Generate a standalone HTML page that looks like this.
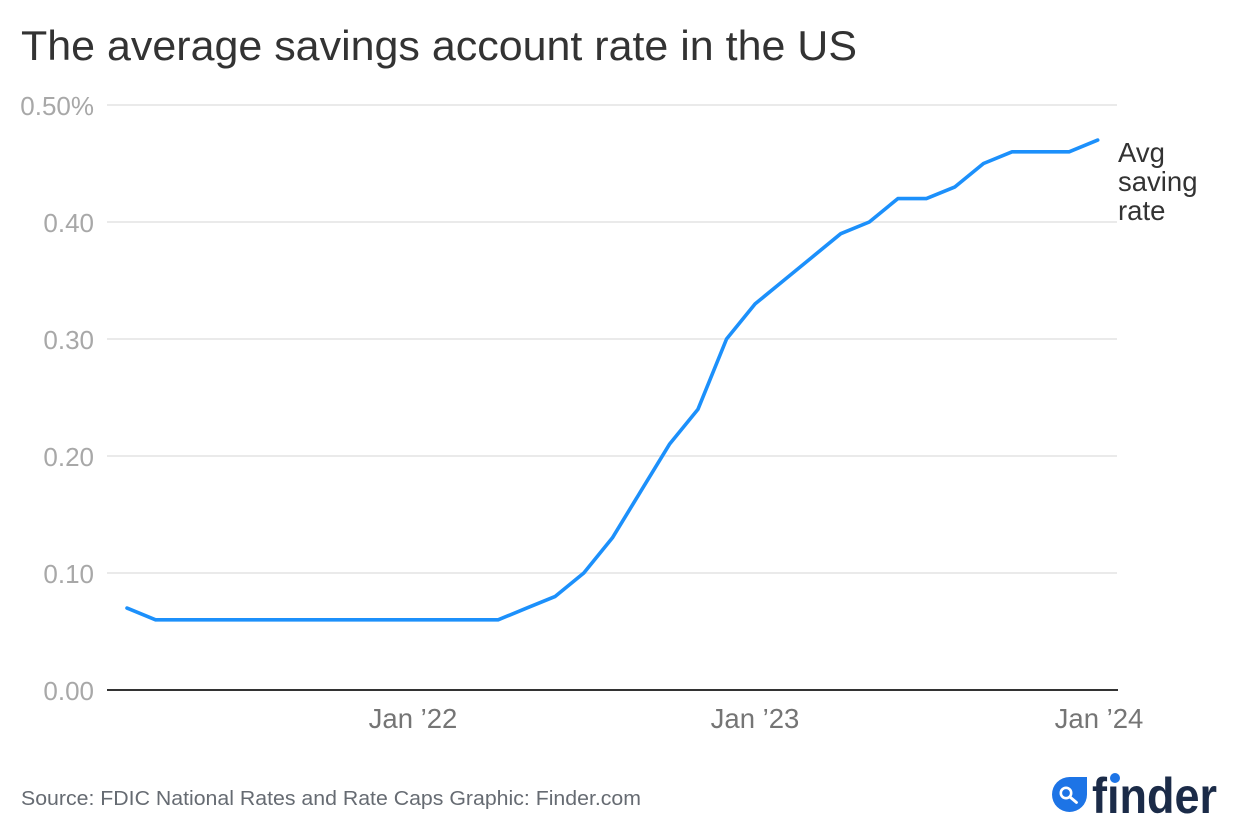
<!DOCTYPE html>
<html>
<head>
<meta charset="utf-8">
<style>
  html, body { margin: 0; padding: 0; background: #ffffff; }
  svg { display: block; }
  text { font-family: "Liberation Sans", "DejaVu Sans", sans-serif; }
</style>
</head>
<body>
<svg width="1240" height="840" viewBox="0 0 1240 840" xmlns="http://www.w3.org/2000/svg">
  <rect x="0" y="0" width="1240" height="840" fill="#ffffff"/>

  <!-- Title -->
  <text x="21" y="60" font-size="42" fill="#333333" textLength="836" lengthAdjust="spacingAndGlyphs">The average savings account rate in the US</text>

  <!-- Gridlines -->
  <g stroke="#e3e3e3" stroke-width="1.6">
    <line x1="107" y1="105" x2="1117" y2="105"/>
    <line x1="107" y1="222" x2="1117" y2="222"/>
    <line x1="107" y1="339" x2="1117" y2="339"/>
    <line x1="107" y1="456" x2="1117" y2="456"/>
    <line x1="107" y1="573" x2="1117" y2="573"/>
  </g>

  <!-- Y tick labels -->
  <g font-size="26" fill="#a8a8a8" text-anchor="end">
    <text x="94" y="115">0.50%</text>
    <text x="94" y="232">0.40</text>
    <text x="94" y="349">0.30</text>
    <text x="94" y="466">0.20</text>
    <text x="94" y="583">0.10</text>
    <text x="94" y="700">0.00</text>
  </g>

  <!-- Data line -->
  <polyline fill="none" stroke="#1c90fb" stroke-width="3.6" stroke-linejoin="round" stroke-linecap="round"
    points="127,608.1 155.55,619.8 498.15,619.8 526.7,608.1 555.25,596.4 583.8,573 612.35,537.9 640.9,491.1 669.45,444.3 698,409.2 726.55,339 755.1,303.9 783.65,280.5 812.2,257.1 840.75,233.7 869.3,222 897.85,198.6 926.4,198.6 954.95,186.9 983.5,163.5 1012.05,151.8 1040.6,151.8 1069.15,151.8 1097.7,140.1"/>

  <!-- X axis -->
  <line x1="107" y1="690" x2="1118" y2="690" stroke="#333333" stroke-width="2"/>

  <!-- X tick labels -->
  <g font-size="27.5" fill="#757575" text-anchor="middle">
    <text x="413" y="728">Jan ’22</text>
    <text x="755" y="728">Jan ’23</text>
    <text x="1099" y="728">Jan ’24</text>
  </g>

  <!-- Series label -->
  <g font-size="27.5" fill="#333333">
    <text x="1118" y="162">Avg</text>
    <text x="1118" y="191">saving</text>
    <text x="1118" y="220">rate</text>
  </g>

  <!-- Source -->
  <text x="21" y="805" font-size="20" fill="#666b72" textLength="620" lengthAdjust="spacingAndGlyphs">Source: FDIC National Rates and Rate Caps Graphic: Finder.com</text>

  <!-- Logo -->
  <path d="M1087,777 L1087,794.5 A17.5,17.5 0 1,1 1069.5,777 Z" fill="#1d74e6"/>
  <circle cx="1066" cy="793" r="5.2" fill="none" stroke="#ffffff" stroke-width="2.6"/>
  <line x1="1070" y1="797" x2="1076.5" y2="802.5" stroke="#ffffff" stroke-width="2.8" stroke-linecap="round"/>
  <text x="1092" y="813" font-size="50" font-weight="bold" fill="#1b2b48" textLength="125" lengthAdjust="spacingAndGlyphs">fınder</text>
  <circle cx="1115" cy="778" r="5" fill="#1d74e6"/>
</svg>
</body>
</html>
